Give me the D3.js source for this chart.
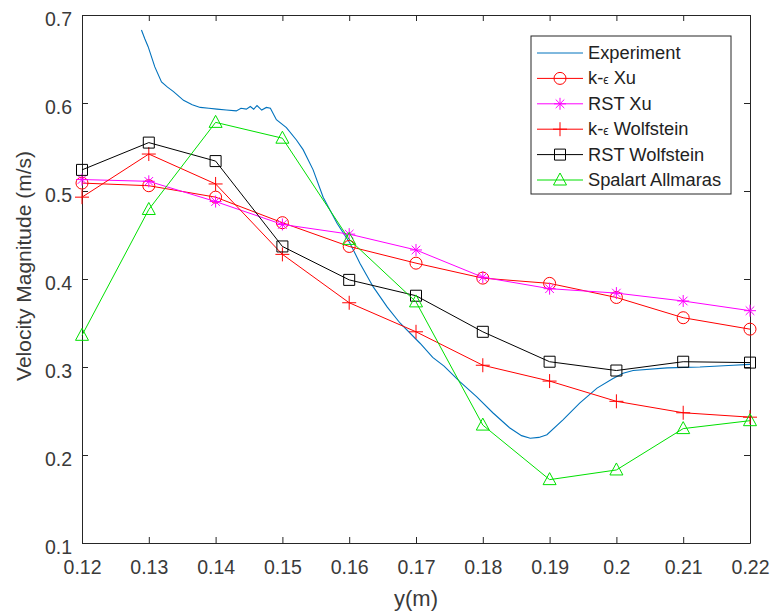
<!DOCTYPE html>
<html>
<head>
<meta charset="utf-8">
<script src="https://cdn.jsdelivr.net/npm/d3@7"></script>
<style>
  body { margin: 0; background: #fff; }
  text { font-family: "Liberation Sans", Arial, sans-serif; }
</style>
</head>
<body>
<div id="chart"></div>
<script>
// data
const yPos = [0.12, 0.13, 0.14, 0.15, 0.16, 0.17, 0.18, 0.19, 0.20, 0.21, 0.22]
const keXu = [0.509, 0.506, 0.493, 0.464, 0.437, 0.418, 0.401, 0.395, 0.379, 0.356, 0.343]
const rstXu = [0.513, 0.511, 0.488, 0.462, 0.451, 0.433, 0.402, 0.389, 0.384, 0.375, 0.364]
const keWolf = [0.493, 0.542, 0.508, 0.428, 0.373, 0.340, 0.302, 0.284, 0.261, 0.248, 0.243]
const rstWolf = [0.524, 0.555, 0.534, 0.437, 0.399, 0.381, 0.340, 0.306, 0.296, 0.306, 0.305]
const spalart = [0.336, 0.479, 0.578, 0.560, 0.445, 0.374, 0.234, 0.172, 0.183, 0.230, 0.239]

const expX = [0.1289, 0.1294, 0.1299, 0.1309, 0.1319, 0.1328, 0.1337, 0.1352, 0.1365, 0.1377,
  0.1390, 0.1402, 0.1416, 0.1431, 0.1438, 0.1446, 0.1452, 0.1457, 0.1462, 0.1469,
  0.1476, 0.1482, 0.1491, 0.1506, 0.1521, 0.1531, 0.1546, 0.1561, 0.1582, 0.1601,
  0.1616, 0.1636, 0.1657, 0.1676, 0.1706, 0.1725, 0.1742, 0.1766, 0.1791, 0.1815,
  0.1840, 0.1858, 0.1871, 0.1884, 0.1896, 0.1920, 0.1945, 0.1971, 0.1995, 0.2010,
  0.2025, 0.2076, 0.2125, 0.2175, 0.2200]
const expV = [0.683, 0.673, 0.664, 0.641, 0.624, 0.618, 0.613, 0.603, 0.598, 0.595,
  0.594, 0.593, 0.592, 0.591, 0.594, 0.593, 0.596, 0.593, 0.597, 0.592,
  0.595, 0.594, 0.581, 0.572, 0.558, 0.547, 0.524, 0.493, 0.463, 0.441,
  0.418, 0.391, 0.368, 0.350, 0.327, 0.311, 0.301, 0.283, 0.266, 0.248,
  0.231, 0.222, 0.219, 0.220, 0.223, 0.240, 0.259, 0.276, 0.287, 0.293,
  0.296, 0.299, 0.300, 0.302, 0.303]

const yTicks = [0.1, 0.2, 0.3, 0.4, 0.5, 0.6, 0.7]

const series = [
  { name: "k-ϵ Xu", values: keXu, color: "#ff0000", marker: "circle" },
  { name: "RST Xu", values: rstXu, color: "#ff00ff", marker: "star" },
  { name: "k-ϵ Wolfstein", values: keWolf, color: "#ff0000", marker: "plus" },
  { name: "RST Wolfstein", values: rstWolf, color: "#000000", marker: "square" },
  { name: "Spalart Allmaras", values: spalart, color: "#00e000", marker: "triangle" }
]

var width = 773
var height = 616
const mLeft = 82, mRight = 750, mTop = 15, mBottom = 543

const svg = d3.select("#chart").append("svg")
  .attr("width", width)
  .attr("height", height)

const x = d3.scaleLinear().domain([0.12, 0.22]).range([mLeft, mRight])
const y = d3.scaleLinear().domain([0.1, 0.7]).range([mBottom, mTop])

const fmt = d => String(+d.toFixed(2))

function markerPath(type) {
  if (type === "plus") return "M-7,0H7M0,-7V7"
  if (type === "star") return "M-6,0H6M0,-6V6M-4.3,-4.3L4.3,4.3M-4.3,4.3L4.3,-4.3"
  if (type === "square") return "M-5.5,-5.5H5.5V5.5H-5.5Z"
  if (type === "triangle") return "M0,-7L6.5,5H-6.5Z"
  return "M6,0A6,6 0 1,1 -6,0A6,6 0 1,1 6,0Z"
}

// axes
const axisColor = "#262626"
const gx = svg.append("g").attr("transform", "translate(0," + mBottom + ")")
  .call(d3.axisBottom(x).tickValues(yPos).tickFormat(fmt).tickSizeInner(-6).tickSizeOuter(0).tickPadding(17))
const gxTop = svg.append("g").attr("transform", "translate(0," + mTop + ")")
  .call(d3.axisTop(x).tickValues(yPos).tickFormat("").tickSizeInner(-6).tickSizeOuter(0))
const gy = svg.append("g").attr("transform", "translate(" + mLeft + ",0)")
  .call(d3.axisLeft(y).tickValues(yTicks).tickFormat(fmt).tickSizeInner(-6).tickSizeOuter(0).tickPadding(10))
const gyRight = svg.append("g").attr("transform", "translate(" + mRight + ",0)")
  .call(d3.axisRight(y).tickValues(yTicks).tickFormat("").tickSizeInner(-6).tickSizeOuter(0))

;[gx, gxTop, gy, gyRight].forEach(g => {
  g.select(".domain").attr("stroke", axisColor).attr("stroke-width", 1)
  g.selectAll(".tick line").attr("stroke", axisColor)
  g.selectAll(".tick text").attr("fill", "#3a3a3a").attr("font-size", "19.5px")
    .attr("font-family", "'Liberation Sans', Arial, sans-serif")
})
gy.selectAll(".tick text").attr("dy", "0.55em")

svg.append("text")
  .attr("x", (mLeft + mRight) / 2)
  .attr("y", 606)
  .attr("text-anchor", "middle")
  .attr("fill", "#3a3a3a")
  .attr("font-size", "22px")
  .text("y(m)")

svg.append("text")
  .attr("transform", "translate(31,266) rotate(-90)")
  .attr("text-anchor", "middle")
  .attr("fill", "#3a3a3a")
  .attr("font-size", "21px")
  .text("Velocity Magnitude (m/s)")

// experiment
const plot = svg.append("g")
const expData = expX.map((d, i) => [d, expV[i]])
plot.append("path")
  .attr("d", d3.line().x(d => x(d[0])).y(d => y(d[1]))(expData))
  .attr("fill", "none")
  .attr("stroke", "#0072bd")
  .attr("stroke-width", 1.1)

series.forEach(s => {
  plot.append("path")
    .attr("d", d3.line().x((d, i) => x(yPos[i])).y(d => y(d))(s.values))
    .attr("fill", "none")
    .attr("stroke", s.color)
    .attr("stroke-width", 1)
  plot.selectAll(null)
    .data(s.values)
    .enter()
    .append("path")
    .attr("d", markerPath(s.marker))
    .attr("transform", (d, i) => "translate(" + x(yPos[i]) + "," + y(d) + ")")
    .attr("fill", "none")
    .attr("stroke", s.color)
    .attr("stroke-width", 1)
})

// legend
const lg = svg.append("g")
lg.append("rect")
  .attr("x", 531).attr("y", 36)
  .attr("width", 200).attr("height", 158)
  .attr("fill", "#fff")
  .attr("stroke", axisColor)
  .attr("stroke-width", 1)

const legendItems = [{ name: "Experiment", color: "#0072bd", marker: null }].concat(series)
legendItems.forEach((s, i) => {
  const ly = 53 + i * 25.4
  lg.append("line")
    .attr("x1", 537).attr("x2", 583)
    .attr("y1", ly).attr("y2", ly)
    .attr("stroke", s.color)
    .attr("stroke-width", 1)
  if (s.marker) {
    lg.append("path")
      .attr("d", markerPath(s.marker))
      .attr("transform", "translate(560," + ly + ")")
      .attr("fill", "none")
      .attr("stroke", s.color)
  }
  const t = lg.append("text")
    .attr("x", 588).attr("y", ly + 6)
    .attr("fill", "#222")
    .attr("font-size", "18.3px")
  if (s.name.indexOf("ϵ") >= 0) {
    const parts = s.name.split("ϵ")
    t.append("tspan").text(parts[0])
    t.append("tspan").attr("font-size", "12px").text("ϵ")
    t.append("tspan").text(parts[1])
  } else {
    t.text(s.name)
  }
})
</script>
</body>
</html>
